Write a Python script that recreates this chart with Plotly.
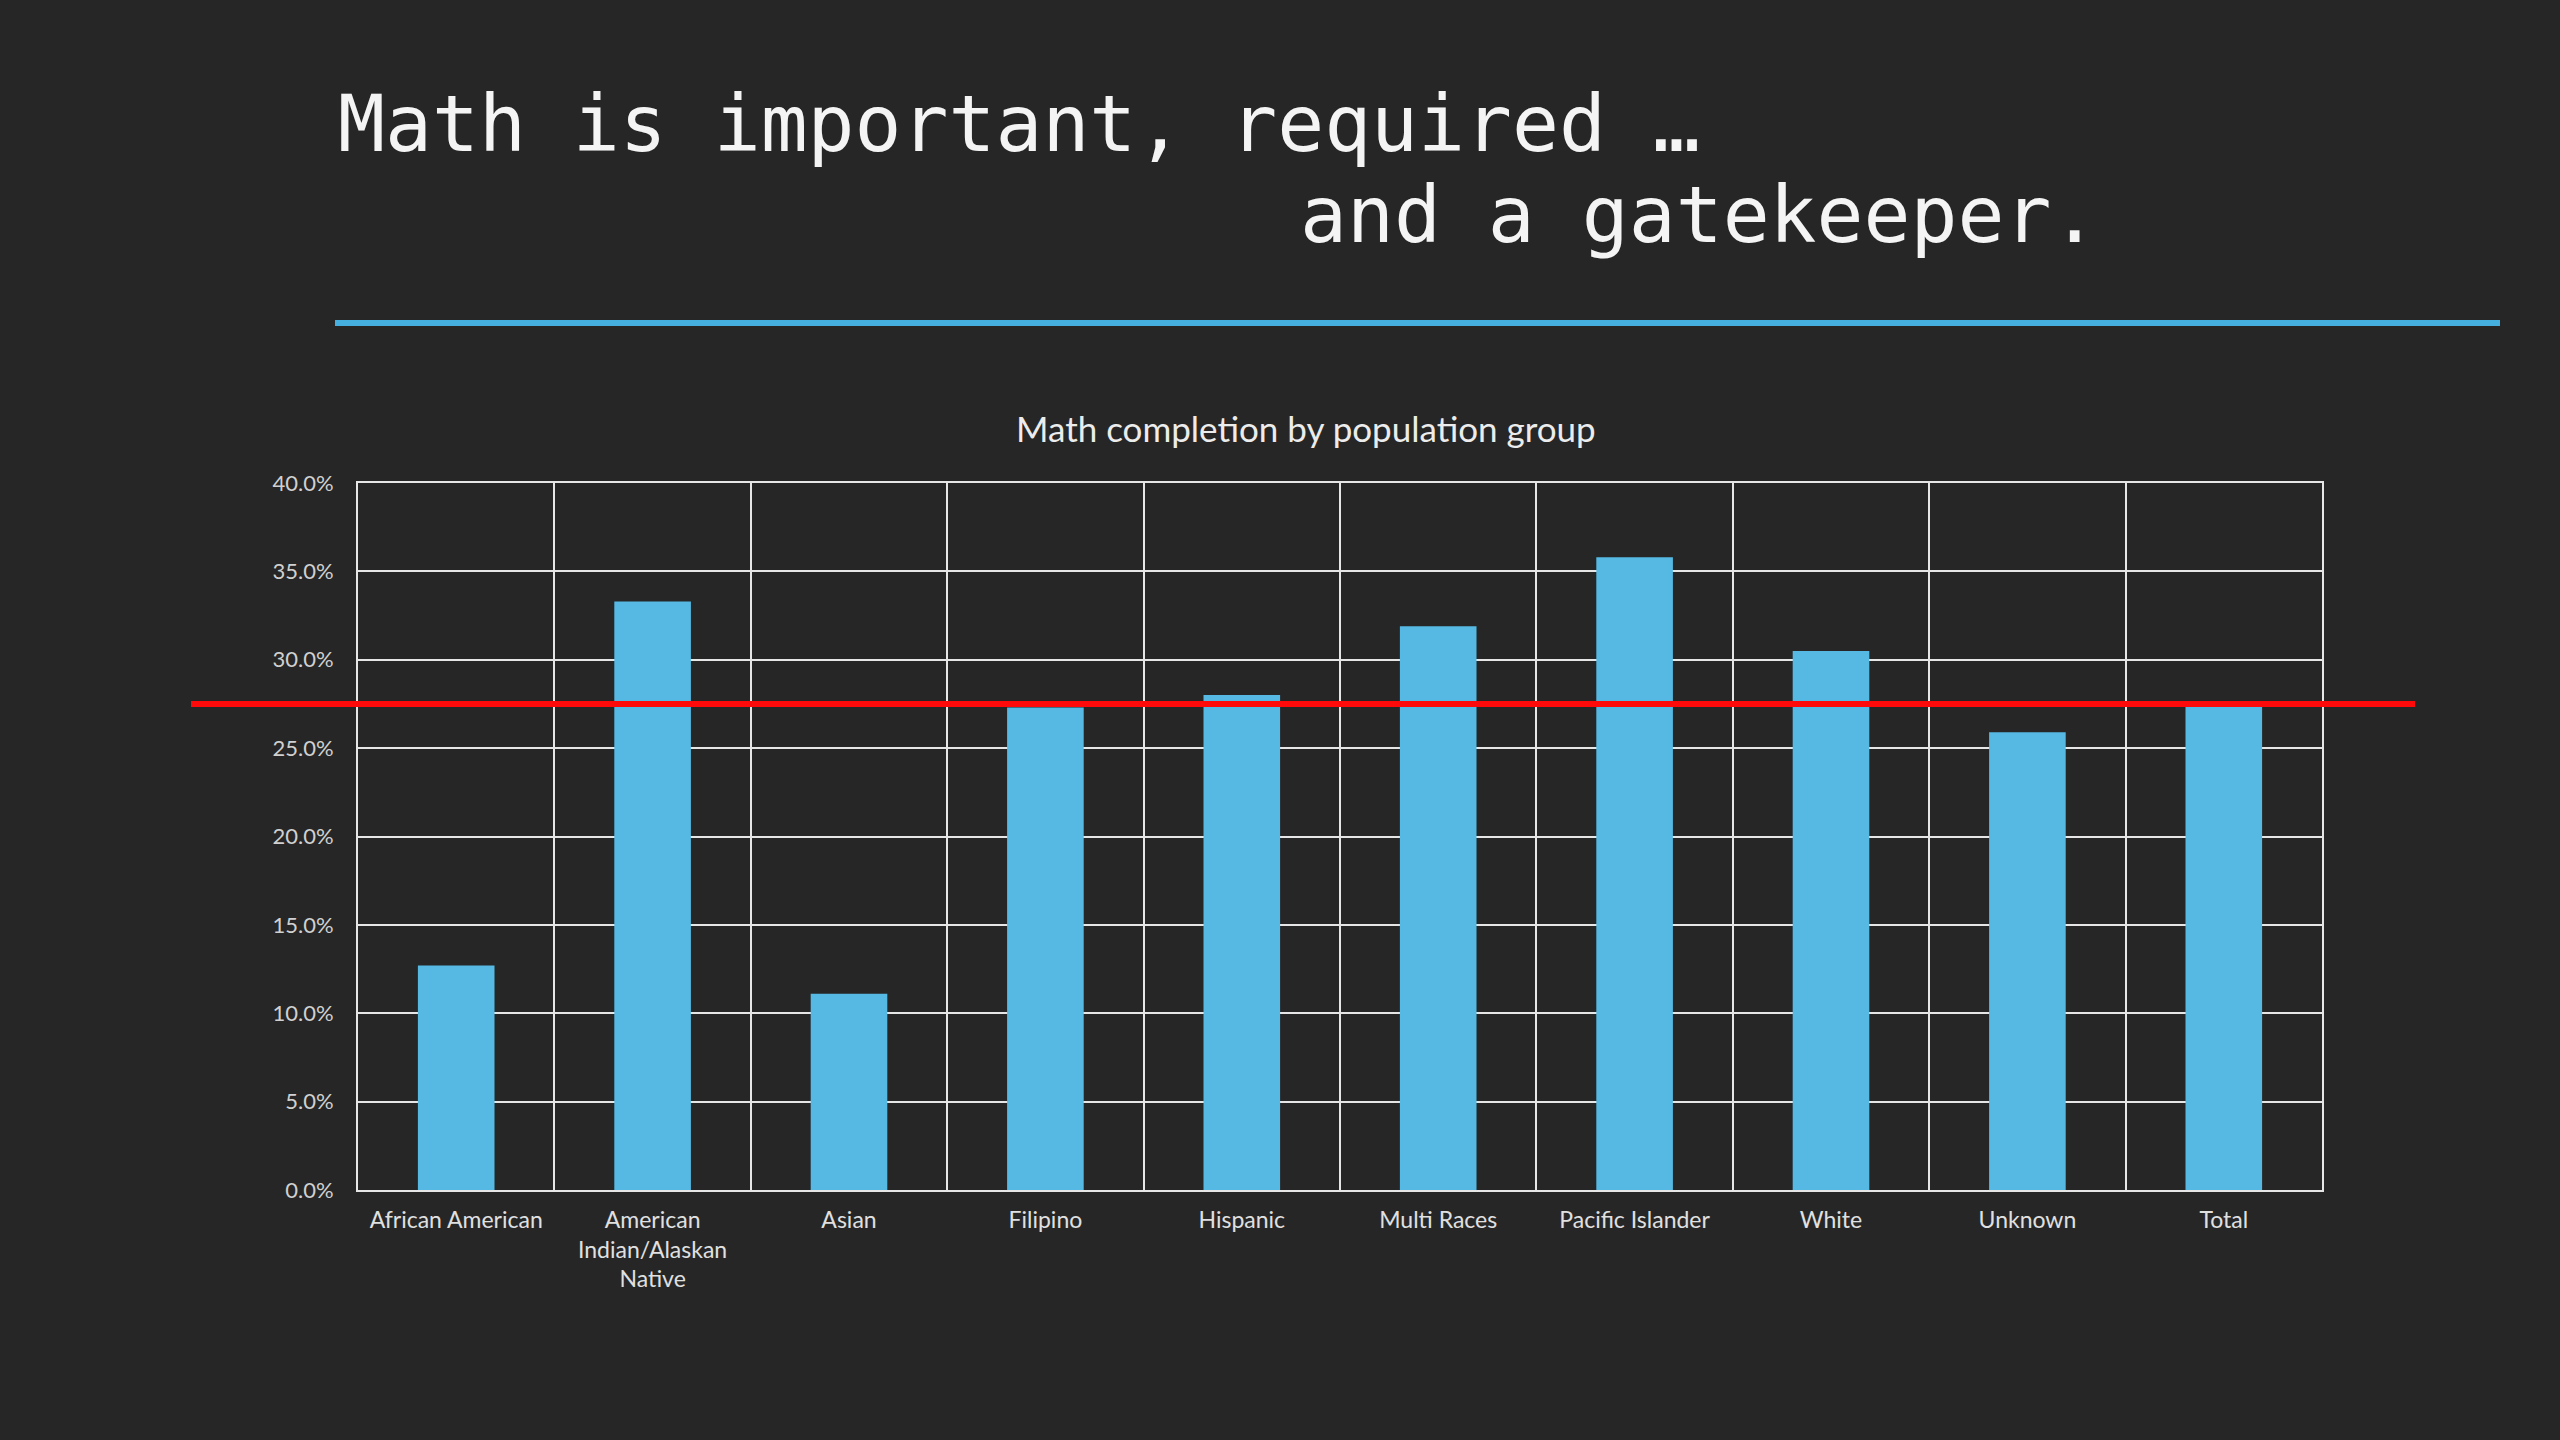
import plotly.graph_objects as go

categories = ["African American", "American<br>Indian/Alaskan<br>Native", "Asian", "Filipino",
              "Hispanic", "Multi Races", "Pacific Islander", "White", "Unknown", "Total"]
values = [12.7, 33.3, 11.1, 27.3, 28.0, 31.9, 35.8, 30.5, 25.9, 27.5]
reference_value = 27.5
y_ticks = [0, 5, 10, 15, 20, 25, 30, 35, 40]
y_tick_labels = ["0.0%", "5.0%", "10.0%", "15.0%", "20.0%", "25.0%", "30.0%", "35.0%", "40.0%"]

W, H = 2560, 1440
L, R, T, B = 358, 2322, 483, 1190

def px(x):
    return (x - L) / (R - L)

def py(y):
    return (B - y) / (B - T)

fig = go.Figure()
fig.add_trace(go.Bar(x=categories, y=values, marker=dict(color="#56B9E4", line=dict(width=0)),
                     hoverinfo="x+y"))

fig.update_layout(
    width=W, height=H,
    margin=dict(l=L, r=W - R, t=T, b=H - B),
    paper_bgcolor="#262626", plot_bgcolor="rgba(0,0,0,0)",
    bargap=0.61, showlegend=False,
    font=dict(family="Lato, Open Sans, sans-serif", color="#e0e0e0"),
    xaxis=dict(tickson="boundaries", showgrid=True, gridcolor="#e6e6e6", gridwidth=2,
               ticks="", showline=True, linecolor="#e6e6e6", linewidth=2, mirror=True,
               tickfont=dict(size=23, color="#e0e0e0", family="Lato, Open Sans, sans-serif"),
               ticklabelstandoff=8),
    yaxis=dict(range=[0, 40], tickvals=y_ticks, ticktext=y_tick_labels,
               showgrid=True, gridcolor="#e6e6e6", gridwidth=2, zeroline=False,
               showline=True, linecolor="#e6e6e6", linewidth=2, mirror=True, ticks="",
               tickfont=dict(size=22, color="#d0d0d0", family="Lato, Open Sans, sans-serif"),
               ticklabelstandoff=18),
)

# Red reference line
fig.add_shape(type="line", xref="paper", yref="y", x0=px(191), x1=px(2415),
              y0=reference_value, y1=reference_value, line=dict(color="#FF0A0A", width=6))

# Blue rule under the slide title
fig.add_shape(type="line", xref="paper", yref="paper", x0=px(335), x1=px(2500),
              y0=py(323), y1=py(323), line=dict(color="#45B0E0", width=6))

mono = "DejaVu Sans Mono, Liberation Mono, monospace"
fig.add_annotation(text="Math is important, required …", xref="paper", yref="paper",
                   x=px(336), y=py(124), xanchor="left", yanchor="middle", showarrow=False,
                   font=dict(family=mono, size=78, color="#f4f4f4"))
fig.add_annotation(text="and a gatekeeper.", xref="paper", yref="paper",
                   x=px(1298), y=py(215), xanchor="left", yanchor="middle", showarrow=False,
                   font=dict(family=mono, size=78, color="#f4f4f4"))
fig.add_annotation(text="Math completion by population group", xref="paper", yref="paper",
                   x=px(1306), y=py(428), xanchor="center", yanchor="middle", showarrow=False,
                   font=dict(family="Lato, Open Sans, sans-serif", size=35, color="#ececec"))

fig.write_html("out.html", config={"displayModeBar": False},
               post_script="document.body.style.margin='0';document.body.style.background='#262626';")
